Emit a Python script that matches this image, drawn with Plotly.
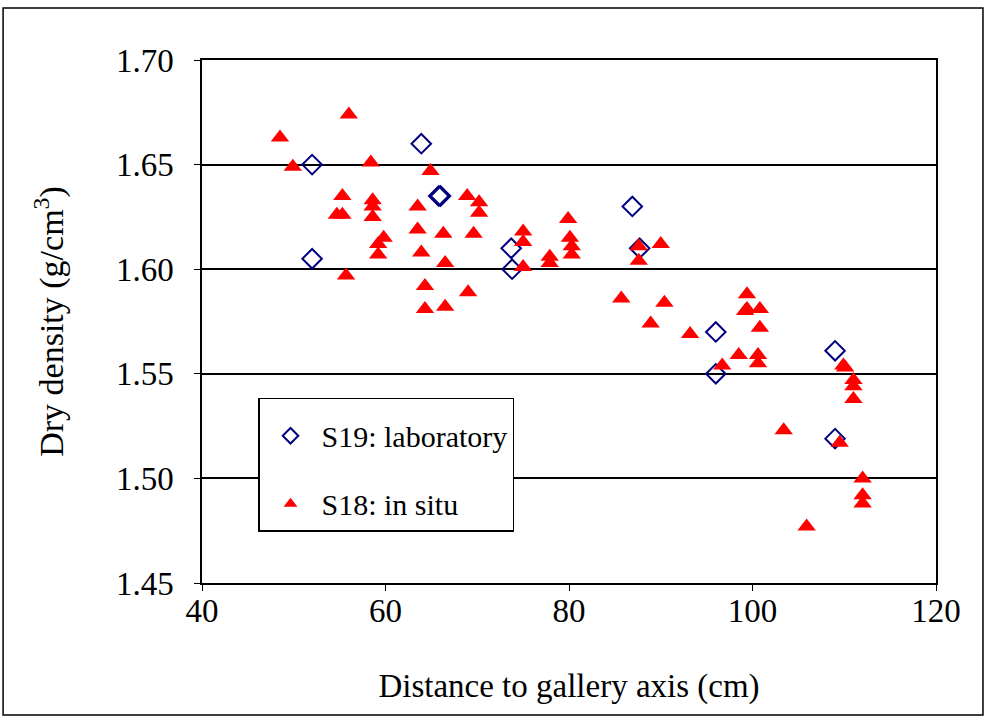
import plotly.graph_objects as go

# S19: laboratory
lab_x = [52.0, 52.0, 63.9, 65.8, 66.0, 73.7, 73.8, 86.9, 87.7, 96.0, 96.0, 109.0, 109.0]
lab_y = [1.650, 1.605, 1.660, 1.635, 1.635, 1.610, 1.600, 1.630, 1.610, 1.570, 1.550, 1.561, 1.519]

# S18: in situ
situ_x = [48.5, 49.9, 56.0, 55.3, 54.7, 55.3, 55.7, 58.4, 58.6, 58.6, 58.6, 59.8, 59.2, 59.2,
          63.5, 63.5, 63.9, 64.3, 64.3, 64.9, 66.3, 66.5, 66.5, 68.9, 70.2, 70.2, 69.6, 69.0,
          75.0, 75.0, 75.0, 77.9, 77.9, 79.9, 80.1, 80.3, 80.3, 87.6, 87.6, 90.0, 85.7, 90.4,
          88.9, 93.2, 99.4, 99.4, 99.2, 100.8, 100.8, 98.5, 100.6, 100.6, 96.7, 103.4, 109.9,
          110.1, 111.0, 111.0, 111.0, 109.5, 112.0, 112.0, 112.0, 105.9]
situ_y = [1.663, 1.649, 1.674, 1.635, 1.626, 1.626, 1.597, 1.651, 1.633, 1.630, 1.625, 1.615,
          1.612, 1.607, 1.630, 1.619, 1.608, 1.592, 1.581, 1.647, 1.617, 1.603, 1.582, 1.635,
          1.632, 1.627, 1.617, 1.589, 1.618, 1.613, 1.601, 1.606, 1.603, 1.624, 1.615, 1.611,
          1.607, 1.611, 1.604, 1.612, 1.586, 1.584, 1.574, 1.569, 1.588, 1.581, 1.580, 1.581,
          1.572, 1.559, 1.559, 1.555, 1.554, 1.523, 1.554, 1.553, 1.547, 1.544, 1.538, 1.517,
          1.500, 1.492, 1.488, 1.477]

x_ticks = [40, 60, 80, 100, 120]
y_ticks = [1.45, 1.50, 1.55, 1.60, 1.65, 1.70]

FONT = "Liberation Serif"

fig = go.Figure()
fig.add_trace(go.Scatter(
    x=lab_x, y=lab_y, mode="markers", name="S19: laboratory", legendgroup="a",
    marker=dict(symbol="diamond-open", size=15, color="#000080", line=dict(width=2, color="#000080")),
))
fig.add_trace(go.Scatter(
    x=situ_x, y=situ_y, mode="markers", name="S18: in situ", legendgroup="b",
    marker=dict(symbol="triangle-up", size=16, color="#ff0000", line=dict(width=0)),
))

fig.update_layout(
    width=985, height=717,
    margin=dict(l=202, r=49, t=60, b=134),
    paper_bgcolor="white", plot_bgcolor="white",
    font=dict(family=FONT, size=33, color="black"),
    showlegend=True,
    legend=dict(
        x=0.0763, y=0.354, xanchor="left", yanchor="top",
        bordercolor="black", borderwidth=1.5, bgcolor="white",
        font=dict(family=FONT, size=30, color="black"),
        title=dict(text=" ", font=dict(family=FONT, size=8)),
        tracegroupgap=26, itemsizing="constant", itemwidth=52,
    ),
    xaxis=dict(
        range=[40, 120], tickvals=x_ticks, ticktext=[str(v) for v in x_ticks],
        tickfont=dict(family=FONT, size=33), ticklabelstandoff=-8,
        showgrid=False, zeroline=False, showline=True, linecolor="black", linewidth=1.5,
        mirror=True, ticks="outside", ticklen=6, tickcolor="black",
        title=dict(text="Distance to gallery axis (cm)", font=dict(family=FONT, size=33), standoff=46),
    ),
    yaxis=dict(
        range=[1.45, 1.70], tickvals=y_ticks, ticktext=["%.2f" % v for v in y_ticks],
        tickfont=dict(family=FONT, size=33), ticklabelstandoff=14,
        showgrid=True, gridcolor="black", gridwidth=1.5, zeroline=False,
        showline=True, linecolor="black", linewidth=1.5, mirror=True,
        ticks="outside", ticklen=6, tickcolor="black",
        title=dict(text="Dry density (g/cm<sup>3</sup>)", font=dict(family=FONT, size=34), standoff=42),
    ),
    shapes=[dict(type="rect", xref="paper", yref="paper",
                 x0=-0.271, x1=1.064, y0=-0.2524, y1=1.0994,
                 line=dict(color="black", width=1.5), fillcolor="rgba(0,0,0,0)", layer="below")],
)

fig.write_html("out.html")
